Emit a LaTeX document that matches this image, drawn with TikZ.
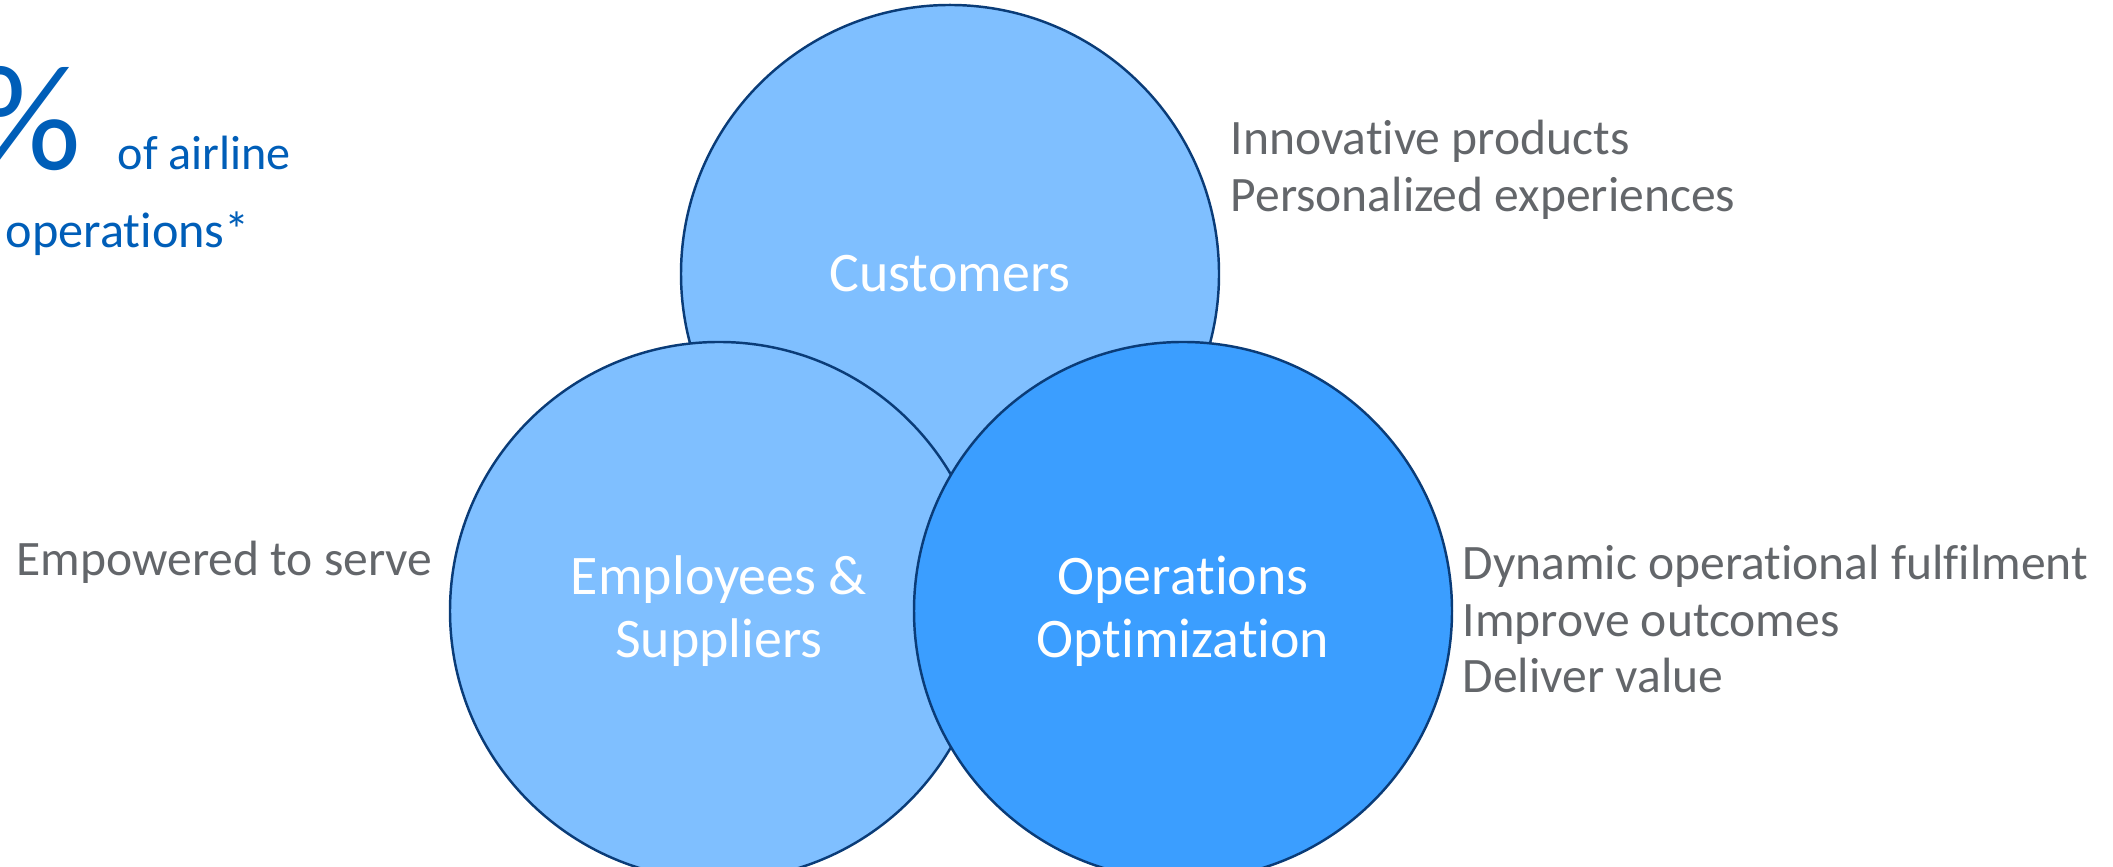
\documentclass[tikz,border=0pt]{standalone}
\usepackage{fontspec}
\setmainfont{Carlito}[Ligatures={NoCommon}]
\usetikzlibrary{positioning}

\definecolor{vennLight}{RGB}{127,191,255}
\definecolor{vennDark}{RGB}{59,158,255}
\definecolor{vennEdge}{RGB}{10,60,120}
\definecolor{noteGray}{RGB}{99,102,106}
\definecolor{statBlue}{RGB}{0,94,184}

\begin{document}
\begin{tikzpicture}[
    venn/.style = {
        draw=vennEdge,
        line width=0.7pt,
        circle,
        minimum size=5.38cm,
        inner sep=0pt,
        align=center,
        text=white,
        font=\fontsize{15.9}{17.9}\selectfont,
    },
    note/.style = {
        anchor=west,
        align=left,
        text=noteGray,
        inner sep=0pt,
        font=\fontsize{14.1}{16.1}\selectfont,
    },
    stat/.style = {
        text=statBlue,
        inner sep=0pt,
    },
]

\useasboundingbox (0,0) rectangle (21.13,8.67);
\clip (0,0) rectangle (21.13,8.67);

% the three overlapping circles
\node[venn, fill=vennLight] (Customers) at (9.50,5.93) {Customers};
\node[venn, fill=vennLight] (Employees) at (7.19,2.56) {Employees \&\\Suppliers};
\node[venn, fill=vennDark]  (Operations) at (11.83,2.56) {Operations\\Optimization};

% what each circle stands for
\node[note] (customerNotes) at (12.30,6.97) {Innovative products\\Personalized experiences};
\node[note] (employeeNotes) at (0.16,3.05) {Empowered to serve};
\node[note] (operationNotes) at (14.62,2.48)
    {Dynamic operational fulfilment\\Improve outcomes\\Deliver value};

% share figure in the corner
\node[stat, anchor=base east, font=\fontsize{43}{48}\selectfont] (share) at (0.82,6.97) {\%};
\node[stat, anchor=base west, font=\fontsize{13.7}{16}\selectfont] (shareOf) at (1.17,6.97) {of airline};
\node[stat, anchor=base west, font=\fontsize{14.3}{16}\selectfont] (shareOps) at (0.05,6.19) {operations*};

\end{tikzpicture}
\end{document}
